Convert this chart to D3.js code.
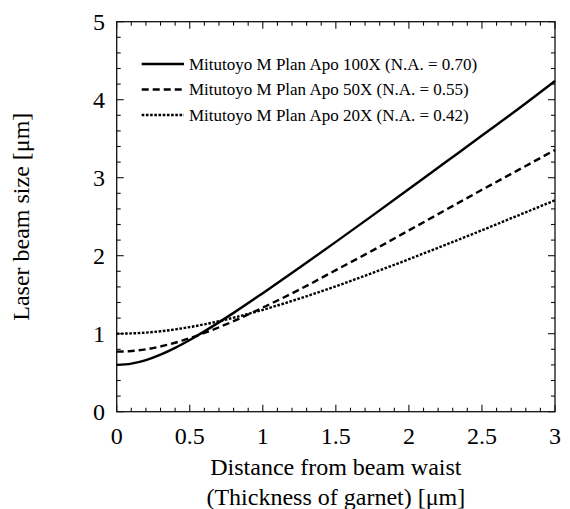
<!DOCTYPE html>
<html>
<head>
<meta charset="utf-8">
<script src="https://cdn.jsdelivr.net/npm/d3@7"></script>
<style>
  html, body { margin: 0; padding: 0; background: #fff; }
  svg { display: block; }
  text { font-family: "Liberation Serif", "Times New Roman", serif; fill: #000; }
</style>
</head>
<body>
<svg id="chart" width="570" height="509"></svg>
<script>
// Distance from beam waist (µm)
const distance = [0, 0.1, 0.2, 0.3, 0.4, 0.5, 0.6, 0.8, 1.0, 1.25, 1.5, 1.75, 2.0, 2.25, 2.5, 2.75, 3.0];
// Beam size (µm) for each objective
const size100X = [0.60, 0.616, 0.662, 0.732, 0.819, 0.920, 1.03, 1.267, 1.52, 1.845, 2.177, 2.514, 2.854, 3.197, 3.54, 3.884, 4.24];
const size50X  = [0.77, 0.778, 0.800, 0.836, 0.884, 0.942, 1.009, 1.161, 1.335, 1.565, 1.815, 2.065, 2.325, 2.585, 2.845, 3.10, 3.355];
const size20X  = [1.00, 1.004, 1.014, 1.031, 1.055, 1.085, 1.12, 1.205, 1.306, 1.450, 1.608, 1.778, 1.955, 2.139, 2.326, 2.518, 2.71];

const seriesNames = [
  "Mitutoyo M Plan Apo 100X (N.A. = 0.70)",
  "Mitutoyo M Plan Apo 50X (N.A. = 0.55)",
  "Mitutoyo M Plan Apo 20X (N.A. = 0.42)"
];
const seriesValues = [size100X, size50X, size20X];
const dashes = [null, "7,4", "2.6,1.6"];

const xTicks = [0, 0.5, 1, 1.5, 2, 2.5, 3];
const xTickLabels = ["0", "0.5", "1", "1.5", "2", "2.5", "3"];
const yTicks = [0, 1, 2, 3, 4, 5];
const yTickLabels = ["0", "1", "2", "3", "4", "5"];

const xTitle = ["Distance from beam waist", "(Thickness of garnet) [μm]"];
const yTitle = "Laser beam size [μm]";

const svg = d3.select("#chart");
const plotLeft = 116.7, plotRight = 555, plotTop = 21.7, plotBottom = 411.7;

const x = d3.scaleLinear().domain([0, 3]).range([plotLeft, plotRight]);
const y = d3.scaleLinear().domain([0, 5]).range([plotBottom, plotTop]);

const axisColor = "#111";
const majorLen = 7, minorLen = 4;

// Frame
svg.append("rect")
  .attr("x", plotLeft).attr("y", plotTop)
  .attr("width", plotRight - plotLeft).attr("height", plotBottom - plotTop)
  .attr("fill", "none").attr("stroke", axisColor).attr("stroke-width", 1.3);

// Inward ticks on all four sides
const xMinor = d3.range(0, 31).map(i => i / 10);
const yMinor = d3.range(0, 26).map(i => i / 5);
const tickG = svg.append("g").attr("stroke", axisColor).attr("stroke-width", 1.1);
xMinor.forEach(v => {
  const major = Math.abs(v * 2 - Math.round(v * 2)) < 1e-6;
  const len = major ? majorLen : minorLen;
  tickG.append("line").attr("x1", x(v)).attr("x2", x(v)).attr("y1", plotBottom).attr("y2", plotBottom - len);
  tickG.append("line").attr("x1", x(v)).attr("x2", x(v)).attr("y1", plotTop).attr("y2", plotTop + len);
});
yMinor.forEach(v => {
  const major = Math.abs(v - Math.round(v)) < 1e-6;
  const len = major ? majorLen : minorLen;
  tickG.append("line").attr("x1", plotLeft).attr("x2", plotLeft + len).attr("y1", y(v)).attr("y2", y(v));
  tickG.append("line").attr("x1", plotRight).attr("x2", plotRight - len).attr("y1", y(v)).attr("y2", y(v));
});

// Tick labels
svg.append("g").selectAll("text").data(xTicks).join("text")
  .attr("x", d => x(d)).attr("y", 443.5)
  .attr("text-anchor", "middle").attr("font-size", 24)
  .text((d, i) => xTickLabels[i]);
svg.append("g").selectAll("text").data(yTicks).join("text")
  .attr("x", 105).attr("y", d => y(d) + 8.3)
  .attr("text-anchor", "end").attr("font-size", 24)
  .text((d, i) => yTickLabels[i]);

// Axis titles
svg.append("text").attr("x", (plotLeft + plotRight) / 2).attr("y", 475)
  .attr("text-anchor", "middle").attr("font-size", 24).text(xTitle[0]);
svg.append("text").attr("x", (plotLeft + plotRight) / 2).attr("y", 505)
  .attr("text-anchor", "middle").attr("font-size", 24).text(xTitle[1]);
svg.append("text")
  .attr("transform", `translate(29,${(plotTop + plotBottom) / 2}) rotate(-90)`)
  .attr("text-anchor", "middle").attr("font-size", 24).text(yTitle);

// Curves
const line = d3.line()
  .x((d, i) => x(distance[i]))
  .y(d => y(d))
  .curve(d3.curveMonotoneX);

seriesValues.forEach((vals, k) => {
  svg.append("path")
    .attr("d", line(vals))
    .attr("fill", "none")
    .attr("stroke", "#000")
    .attr("stroke-width", 2.4)
    .attr("stroke-dasharray", dashes[k]);
});

// Legend
const legendY = [64, 89.5, 115];
seriesNames.forEach((name, k) => {
  const g = svg.append("g");
  g.append("line")
    .attr("x1", 141.7).attr("x2", 184)
    .attr("y1", legendY[k]).attr("y2", legendY[k])
    .attr("stroke", "#000").attr("stroke-width", 2.4)
    .attr("stroke-dasharray", dashes[k]);
  g.append("text")
    .attr("x", 189).attr("y", legendY[k] + 5.5)
    .attr("font-size", 17)
    .text(name);
});
</script>
</body>
</html>
